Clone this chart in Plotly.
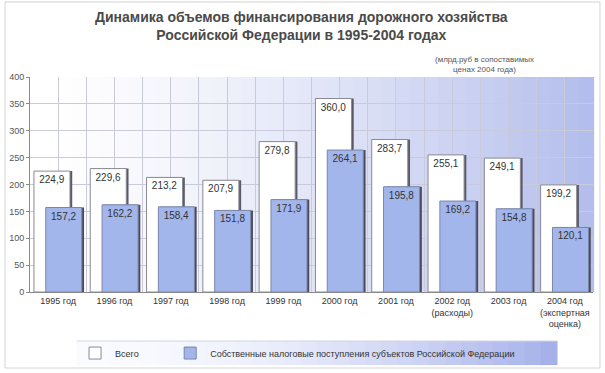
import plotly.graph_objects as go

categories = ["1995 год", "1996 год", "1997 год", "1998 год", "1999 год",
              "2000 год", "2001 год", "2002 год<br>(расходы)", "2003 год",
              "2004 год<br>(экспертная<br>оценка)"]
total = [224.9, 229.6, 213.2, 207.9, 279.8, 360.0, 283.7, 255.1, 249.1, 199.2]
own_tax = [157.2, 162.2, 158.4, 151.8, 171.9, 264.1, 195.8, 169.2, 154.8, 120.1]
y_ticks = [0, 50, 100, 150, 200, 250, 300, 350, 400]

FONT = "Liberation Sans, Arial, sans-serif"
xs = list(range(len(categories)))

fig = go.Figure()

# shadows
fig.add_trace(go.Bar(x=xs, y=total, offset=-0.39, width=0.64, marker=dict(color="#5a5a66", line=dict(width=0)),
                     showlegend=False, hoverinfo="skip"))
fig.add_trace(go.Bar(x=xs, y=total, offset=-0.43, width=0.64, name="Всего", legend="legend",
                     marker=dict(color="#ffffff", line=dict(color="#8a8a95", width=1)),
                     text=total, texttemplate="%{y:.1f}", textposition="inside",
                     insidetextanchor="end", textangle=0, constraintext="none",
                     textfont=dict(family=FONT, size=10, color="#333333")))
fig.add_trace(go.Bar(x=xs, y=own_tax, offset=-0.18, width=0.64, marker=dict(color="#4a4a58", line=dict(width=0)),
                     showlegend=False, hoverinfo="skip"))
fig.add_trace(go.Bar(x=xs, y=own_tax, offset=-0.22, width=0.64, legend="legend2",
                     name="Собственные налоговые поступления субъектов Российской Федерации",
                     marker=dict(color="#a3b6ec", line=dict(color="#7a86a8", width=1)),
                     text=own_tax, texttemplate="%{y:.1f}", textposition="inside",
                     insidetextanchor="end", textangle=0, constraintext="none",
                     textfont=dict(family=FONT, size=10, color="#333333")))

shapes = []
def mix(c1, c2, t):
    return "rgb(%d,%d,%d)" % tuple(round(a + (b - a) * t) for a, b in zip(c1, c2))
# plot-area gradient (white -> light blue)
n = 40
for i in range(n):
    t = (i / (n - 1)) ** 1.4
    shapes.append(dict(type="rect", xref="x domain", yref="y domain", x0=i / n, x1=(i + 1) / n + 0.002,
                       y0=0, y1=1, fillcolor=mix((255, 255, 255), (180, 190, 236), t),
                       line=dict(width=0), layer="below"))
# legend box gradient
lx0, lx1, ly0, ly1 = 0.083, 0.936, -0.340, -0.228
m = 30
for i in range(m):
    t = (i / (m - 1)) ** 1.8
    shapes.append(dict(type="rect", xref="paper", yref="paper",
                       x0=lx0 + (lx1 - lx0) * i / m, x1=lx0 + (lx1 - lx0) * (i + 1) / m + 0.001,
                       y0=ly0, y1=ly1, fillcolor=mix((250, 251, 255), (166, 177, 234), t),
                       line=dict(width=0), layer="below"))
shapes.append(dict(type="line", xref="paper", yref="paper", x0=lx0, x1=lx1, y0=ly1, y1=ly1,
                   line=dict(color="#d0d4e4", width=1)))
# outer frame
shapes.append(dict(type="rect", xref="paper", yref="paper", x0=-0.0444, x1=1.0124, y0=-0.3535, y1=1.349,
                   line=dict(color="#d4d4d4", width=1), fillcolor="rgba(0,0,0,0)", layer="below"))

legend_common = dict(orientation="h", y=-0.284, yanchor="middle", bgcolor="rgba(0,0,0,0)",
                     font=dict(family=FONT, size=9, color="#333333"))

fig.update_layout(
    width=605, height=373,
    margin=dict(l=30, r=12, t=77, b=81, autoexpand=False),
    paper_bgcolor="#ffffff", plot_bgcolor="rgba(0,0,0,0)",
    barmode="overlay", separators=", ",
    font=dict(family=FONT, size=9, color="#444444"),
    shapes=shapes,
    showlegend=True,
    legend=dict(x=0.080, xanchor="left", **legend_common),
    legend2=dict(x=0.249, xanchor="left", **legend_common),
    annotations=[
        dict(text="<b>Динамика объемов финансирования дорожного хозяйства<br>Российской Федерации в 1995-2004 годах</b>",
             xref="paper", yref="paper", x=0.483, y=1.237, xanchor="center", yanchor="middle",
             showarrow=False, font=dict(family=FONT, size=14, color="#4a4a4a")),
        dict(text="(млрд.руб в сопоставимых<br>ценах 2004 года)",
             xref="paper", yref="paper", x=0.808, y=1.056, xanchor="center", yanchor="middle",
             showarrow=False, font=dict(family=FONT, size=8, color="#555555")),
    ],
)

fig.update_xaxes(range=[-0.5, len(categories) - 0.5], tickmode="array", tickvals=xs, ticktext=categories,
                 showgrid=True, gridcolor="#c9cbdc", gridwidth=1, automargin=False,
                 minor=dict(dtick=1, tick0=0.5, showgrid=True, gridcolor="#c9cbdc"),
                 showline=True, linecolor="#8a8a8a", ticks="", zeroline=False,
                 tickfont=dict(family=FONT, size=9, color="#333333"))
fig.update_yaxes(range=[0, 400], tickmode="array", tickvals=y_ticks, showgrid=True, gridcolor="#c9cbdc",
                 showline=True, linecolor="#8a8a8a", ticks="outside", ticklen=3, tickcolor="#8a8a8a",
                 zeroline=False, automargin=False, tickfont=dict(family=FONT, size=9, color="#555555"))

fig.write_html("out.html", config={"displayModeBar": False},
               post_script="document.body.style.margin='0';document.body.style.overflow='hidden';")
